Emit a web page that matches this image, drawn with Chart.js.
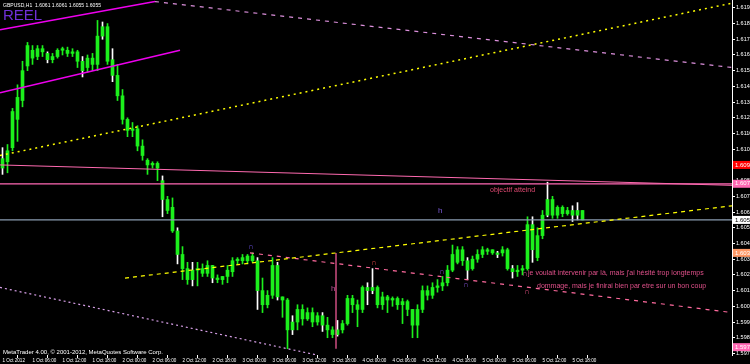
<!DOCTYPE html>
<html><head><meta charset="utf-8">
<script src="https://cdn.jsdelivr.net/npm/chart.js@4.4.0/dist/chart.umd.min.js"></script>
<style>html,body{margin:0;padding:0;background:#000;overflow:hidden}#wrap{width:750px;height:364px}</style>
</head><body><div id="wrap"><canvas id="c" width="750" height="364"></canvas></div>
<script>
const symbol = 'GBPUSD,H1';
const opens = [1.6088,1.6092,1.6101,1.6119,1.6131,1.6153,1.6163,1.6159,1.6164,1.6161,
1.6157,1.6159,1.6163,1.6163,1.6161,1.6162,1.6156,1.6152,1.6158,1.6154,
1.6172,1.6178,1.6157,1.6147,1.6134,1.6119,1.6112,1.6113,1.6102,1.6093,
1.6090,1.6091,1.6080,1.6068,1.6063,1.6048,1.6033,1.6024,1.6017,1.6023,
1.6024,1.6021,1.6026,1.6018,1.6017,1.6019,1.6022,1.6029,1.6029,1.6029,
1.6032,1.6029,1.6010,1.6001,1.6007,1.6026,1.6006,1.6004,1.5985,1.5990,
1.5998,1.5992,1.5996,1.5990,1.5994,1.5988,1.5985,1.5982,1.5985,1.5989,
1.6005,1.6001,1.5998,1.6012,1.6010,1.6012,1.6001,1.6006,1.6004,1.6005,
1.6001,1.6003,1.5998,1.5988,1.5998,1.6010,1.6007,1.6012,1.6013,1.6015,
1.6023,1.6028,1.6036,1.6029,1.6024,1.6030,1.6033,1.6036,1.6036,1.6034,
1.6034,1.6036,1.6024,1.6022,1.6023,1.6024,1.6052,1.6031,1.6045,1.6058,
1.6068,1.6058,1.6063,1.6059,1.6061,1.6058,1.6061];
const highs = [1.6101,1.6103,1.6126,1.6141,1.6156,1.6168,1.6166,1.6166,1.6166,1.6162,
1.6161,1.6164,1.6165,1.6165,1.6164,1.6163,1.6159,1.6160,1.6161,1.6182,
1.6181,1.6180,1.6164,1.6154,1.6138,1.6120,1.6117,1.6115,1.6106,1.6094,
1.6092,1.6092,1.6083,1.6070,1.6069,1.6050,1.6038,1.6028,1.6028,1.6028,
1.6027,1.6029,1.6026,1.6020,1.6019,1.6026,1.6031,1.6031,1.6033,1.6033,
1.6034,1.6031,1.6018,1.6010,1.6031,1.6028,1.6006,1.6005,1.5994,1.6001,
1.6001,1.5999,1.5999,1.5996,1.5996,1.5993,1.5987,1.5991,1.5991,1.6007,
1.6007,1.6004,1.6013,1.6015,1.6024,1.6013,1.6009,1.6007,1.6006,1.6006,
1.6005,1.6004,1.5998,1.6001,1.6013,1.6013,1.6015,1.6017,1.6019,1.6026,
1.6039,1.6038,1.6038,1.6031,1.6032,1.6036,1.6038,1.6037,1.6036,1.6035,
1.6038,1.6037,1.6026,1.6026,1.6026,1.6057,1.6057,1.6050,1.6061,1.6079,
1.6070,1.6064,1.6064,1.6063,1.6064,1.6066,1.6061];
const lows = [1.6084,1.6085,1.6099,1.6105,1.6127,1.6150,1.6154,1.6157,1.6159,1.6155,
1.6155,1.6158,1.6160,1.6159,1.6159,1.6152,1.6146,1.6149,1.6150,1.6150,
1.6170,1.6154,1.6143,1.6131,1.6116,1.6108,1.6108,1.6099,1.6093,1.6084,
1.6088,1.6080,1.6057,1.6059,1.6047,1.6027,1.6017,1.6014,1.6013,1.6013,
1.6019,1.6019,1.6015,1.6015,1.6014,1.6015,1.6019,1.6027,1.6027,1.6027,
1.6028,1.5998,1.5996,1.5999,1.6005,1.6004,1.5993,1.5973,1.5982,1.5985,
1.5988,1.5991,1.5987,1.5988,1.5984,1.5980,1.5980,1.5981,1.5983,1.5988,
1.5996,1.5987,1.5996,1.6001,1.6008,1.5999,1.5998,1.5996,1.6000,1.5998,
1.5989,1.5994,1.5980,1.5980,1.5996,1.6004,1.6005,1.6009,1.6010,1.6013,
1.6022,1.6027,1.6026,1.6017,1.6023,1.6028,1.6031,1.6033,1.6033,1.6031,
1.6032,1.6023,1.6018,1.6019,1.6020,1.6023,1.6028,1.6029,1.6043,1.6057,
1.6056,1.6056,1.6057,1.6058,1.6054,1.6055,1.6055];
const closes = [1.6094,1.6099,1.6124,1.6133,1.6150,1.6166,1.6158,1.6164,1.6162,1.6157,
1.6159,1.6163,1.6164,1.6161,1.6162,1.6156,1.6150,1.6158,1.6154,1.6172,
1.6178,1.6156,1.6147,1.6134,1.6119,1.6112,1.6113,1.6102,1.6096,1.6090,
1.6091,1.6088,1.6068,1.6061,1.6048,1.6033,1.6024,1.6017,1.6023,1.6024,
1.6021,1.6026,1.6018,1.6017,1.6019,1.6023,1.6029,1.6030,1.6031,1.6032,
1.6029,1.6010,1.6001,1.6007,1.6026,1.6006,1.6004,1.5985,1.5990,1.5998,
1.5992,1.5996,1.5990,1.5994,1.5988,1.5985,1.5982,1.5985,1.5989,1.6005,
1.6001,1.5998,1.6012,1.6010,1.6012,1.6001,1.6006,1.6004,1.6005,1.6001,
1.6003,1.5998,1.5988,1.5998,1.6010,1.6007,1.6012,1.6013,1.6015,1.6023,
1.6033,1.6036,1.6029,1.6023,1.6030,1.6033,1.6036,1.6035,1.6034,1.6033,
1.6036,1.6024,1.6022,1.6023,1.6024,1.6052,1.6036,1.6045,1.6058,1.6068,
1.6058,1.6063,1.6059,1.6061,1.6058,1.6061,1.6055];
const whiteCandles = [0,9,16,20,22,32,35,38,42,51,55,58,64,67,73,74,93,99,102,106,109,114,115];

const timeTicks = [0,6,12,18,24,30,36,42,48,54,60,66,72,78,84,90,96,102,108,114];
const timeLabels = ['1 Oct 2012','1 Oct 06:00','1 Oct 12:00','1 Oct 18:00','2 Oct 00:00','2 Oct 06:00','2 Oct 12:00','2 Oct 18:00',
'3 Oct 00:00','3 Oct 06:00','3 Oct 12:00','3 Oct 18:00','4 Oct 00:00','4 Oct 06:00','4 Oct 12:00','4 Oct 18:00',
'5 Oct 00:00','5 Oct 06:00','5 Oct 12:00','5 Oct 18:00'];
const priceTicks = [1.5970,1.5980,1.5990,1.6000,1.6010,1.6020,1.6030,1.6040,1.6050,1.6060,1.6070,1.6080,
1.6090,1.6100,1.6110,1.6120,1.6130,1.6140,1.6150,1.6160,1.6170,1.6180,1.6190];
const priceMin = 1.5969, priceMax = 1.6195;
const barMin = -0.5, barMax = 145.9;

// drawn objects (time index, price)
const magentaUpper = [{x:-0.5,y:1.6176},{x:30.5,y:1.6194}];
const magentaLower = [{x:-0.5,y:1.6136},{x:35.5,y:1.6163}];
const violetDashedTop = [{x:30.5,y:1.6194},{x:145.9,y:1.6152}];
const yellowDotted = [{x:-0.5,y:1.6096},{x:145.9,y:1.6193}];
const yellowDashed = [{x:24.5,y:1.6018},{x:145.9,y:1.6064}];
const pinkDashed = [{x:49.5,y:1.6034},{x:145.9,y:1.5996}];
const violetDotted = [{x:-0.5,y:1.6012},{x:62.9,y:1.5969}];
const pinkSloped = [{x:-0.5,y:1.6090},{x:145.9,y:1.6077}];
const pinkLevel = 1.6078;
const bidLevel = 1.6055;
const pinkVertical = [{x:66.7,y:1.6034},{x:66.7,y:1.5973}];

const axisBoxes = [
  {value:1.6090, bg:'#ff0000', fg:'#ffffff'},
  {value:1.6078, bg:'#ff69b4', fg:'#ffffff'},
  {value:1.6055, bg:'#ffffff', fg:'#000000'},
  {value:1.6034, bg:'#ff9966', fg:'#ffffff'},
  {value:1.5974, bg:'#ff69b4', fg:'#ffffff'}
];
const notes = [
  {text:'objectif atteind', t:97.5, p:1.6074, color:'#e04a72', size:7, w:50},
  {text:'h', t:87.1, p:1.6061, color:'#7a5ad8', size:8},
  {text:'h', t:65.7, p:1.6011, color:'#c0509a', size:8},
  {text:"je voulait intervenir par là, mais j'ai hésité trop longtemps", t:105.1, p:1.6021, color:'#e0508a', size:7, w:196},
  {text:'dommage, mais je finirai bien par etre sur un bon coup', t:106.9, p:1.6013, color:'#e0508a', size:7, w:190}
];
const markers = [
  {t:49.7, p:1.6038, color:'#6a50e0'},
  {t:74.3, p:1.6028, color:'#e04848'},
  {t:87.9, p:1.6022, color:'#8050d0'},
  {t:92.7, p:1.6014, color:'#8050d0'},
  {t:104.5, p:1.6021, color:'#d05090'},
  {t:104.9, p:1.6009, color:'#e05080'}
];

const GREEN = '#1cf01c';
const FONT = "'Liberation Sans', Arial, sans-serif";

function lineDs(data, color, width, dash) {
  return {type:'line', data, borderColor:color, borderWidth:width, borderDash:dash||[], pointRadius:0, fill:false, tension:0, order:0};
}

const overlay = {
  id:'overlay',
  afterDatasetsDraw(chart) {
    const {ctx, chartArea:a, scales:{x, y}} = chart;
    ctx.save();
    ctx.beginPath(); ctx.rect(a.left, a.top, a.right - a.left - 8, a.bottom - a.top); ctx.clip();
    ctx.textAlign = 'left'; ctx.textBaseline = 'middle';
    notes.forEach(n => {
      ctx.font = n.size + 'px ' + FONT; ctx.fillStyle = n.color;
      const px = x.getPixelForValue(n.t), py = y.getPixelForValue(n.p);
      if (n.w) ctx.fillText(n.text, px, py, n.w); else ctx.fillText(n.text, px, py);
    });
    ctx.textAlign = 'center';
    markers.forEach(m => {
      ctx.font = 'bold 8px ' + FONT; ctx.fillStyle = m.color;
      ctx.fillText('∩', x.getPixelForValue(m.t), y.getPixelForValue(m.p));
    });
    ctx.restore();
  },
  afterDraw(chart) {
    const {ctx, chartArea:a, scales:{y}} = chart;
    ctx.save();
    ctx.textBaseline = 'middle'; ctx.textAlign = 'left';
    axisBoxes.forEach(b => {
      const py = y.getPixelForValue(b.value);
      ctx.fillStyle = b.bg; ctx.fillRect(a.right + 1, py - 4, 20, 8);
      ctx.fillStyle = b.fg; ctx.font = '6px ' + FONT;
      ctx.fillText(b.value.toFixed(4), a.right + 3, py);
    });
    const n = closes.length - 1;
    ctx.fillStyle = '#ffffff'; ctx.font = '6px ' + FONT;
    ctx.fillText(symbol + '  ' + opens[n].toFixed(4) + ' ' + highs[n].toFixed(4) + ' ' + lows[n].toFixed(4) + ' ' + closes[n].toFixed(4), 3, 5, 98);
    ctx.fillStyle = '#7030d8'; ctx.font = '15px ' + FONT;
    ctx.fillText('REEL', 3, 16);
    ctx.fillStyle = '#ffffff'; ctx.font = '6px ' + FONT;
    ctx.fillText('MetaTrader 4.00, © 2001-2012, MetaQuotes Software Corp.', 3, 352, 160);
    ctx.restore();
  }
};

const wickColors = highs.map((h, i) => whiteCandles.includes(i) ? '#ffffff' : GREEN);

new Chart(document.getElementById('c'), {
  data: {
    datasets: [
      lineDs(magentaUpper, '#ee00ee', 1.5),
      lineDs(magentaLower, '#ee00ee', 1.5),
      lineDs(violetDashedTop, '#dd90dd', 1.2, [4,5]),
      lineDs(yellowDotted, '#ffff00', 1.5, [2,4]),
      lineDs(yellowDashed, '#ffff00', 1.2, [4,4]),
      lineDs(pinkDashed, '#ff6a9e', 1.2, [4,5]),
      lineDs(violetDotted, '#d8a0e8', 1.2, [2,3]),
      lineDs(pinkSloped, '#ff6ab0', 1),
      lineDs([{x:barMin,y:pinkLevel},{x:barMax,y:pinkLevel}], '#ff69b4', 1.2),
      lineDs([{x:barMin,y:bidLevel},{x:barMax,y:bidLevel}], '#8a9bb0', 1.2),
      lineDs(pinkVertical, '#ff5fa0', 1.2),
      {type:'bar', data: opens.map((o, i) => ({x:i, y:[o, closes[i]]})), backgroundColor:GREEN, barThickness:3, minBarLength:1, grouped:false, order:1, borderWidth:0},
      {type:'bar', data: highs.map((h, i) => ({x:i, y:[lows[i], h]})), backgroundColor:wickColors, barThickness:1, grouped:false, order:2, borderWidth:0}
    ]
  },
  options: {
    responsive:false, animation:false, events:[],
    layout:{padding:0},
    plugins:{legend:{display:false}, tooltip:{enabled:false}},
    scales:{
      x:{type:'linear', min:barMin, max:barMax, offset:false,
        afterBuildTicks: s => { s.ticks = timeTicks.map(v => ({value:v})); },
        afterFit: s => { s.height = 9; s.paddingLeft = 0; s.paddingRight = 0; },
        ticks:{color:'#ffffff', font:{size:4.6, family:FONT}, align:'start', maxRotation:0, autoSkip:false, padding:0,
          callback:(v, i) => timeLabels[i]},
        grid:{display:true, drawOnChartArea:false, tickLength:3, color:'#ffffff'},
        border:{display:false}},
      y:{type:'linear', position:'right', min:priceMin, max:priceMax,
        afterBuildTicks: s => { s.ticks = priceTicks.map(v => ({value:v})); },
        afterFit: s => { s.width = 18; s.paddingTop = 0; s.paddingBottom = 0; },
        ticks:{color:'#ffffff', font:{size:5.5, family:FONT}, padding:1, callback:v => v.toFixed(4)},
        grid:{display:true, drawOnChartArea:false, tickLength:3, color:'#ffffff'},
        border:{display:true, color:'#ffffff', width:1}}
    }
  },
  plugins:[overlay]
});
</script>
</body></html>
